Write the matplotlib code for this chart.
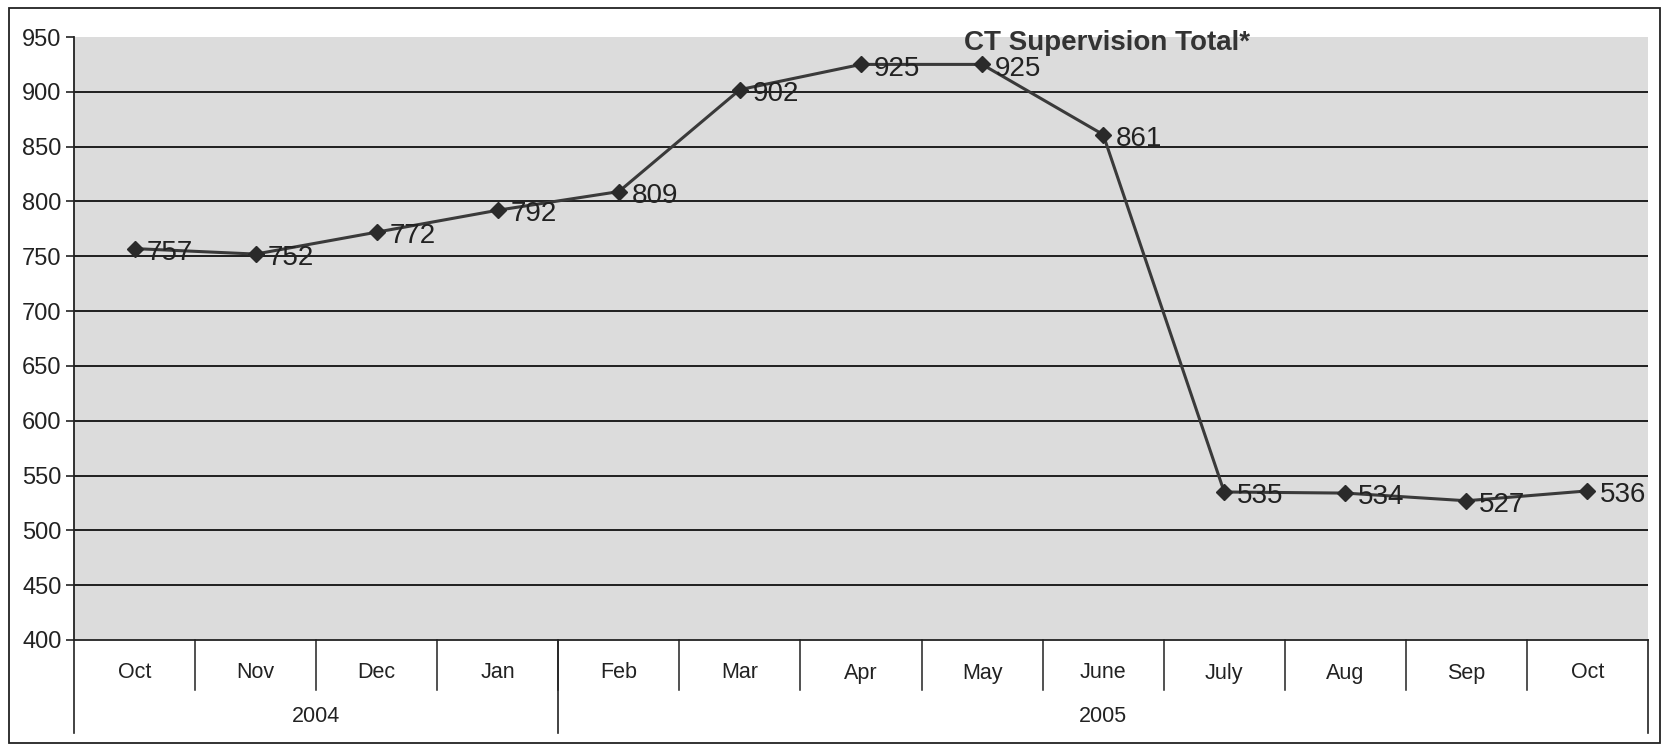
import matplotlib
matplotlib.use("Agg")
import matplotlib.pyplot as plt
from matplotlib.patches import Rectangle
import matplotlib.transforms as mtransforms

months = ["Oct", "Nov", "Dec", "Jan", "Feb", "Mar", "Apr", "May", "June", "July", "Aug", "Sep", "Oct"]
years = ["2004", "2005"]
year_counts = [4, 9]
values = [757, 752, 772, 792, 809, 902, 925, 925, 861, 535, 534, 527, 536]
yticks = list(range(400, 951, 50))
title = "CT Supervision Total*"

plt.rcParams['font.family'] = ['Liberation Sans', 'DejaVu Sans']

W, H = 1663, 753
fig = plt.figure(figsize=(W / 100, H / 100), dpi=100)
fig.patch.set_facecolor("white")

# outer frame
fig.patches.append(Rectangle((9 / W, 1 - 743 / H), (1660 - 9) / W, (743 - 8) / H,
                             transform=fig.transFigure, fill=False, edgecolor="#222222", lw=1.3))

left, right, top, bottom = 74, 1648, 37, 640
ax = fig.add_axes([left / W, 1 - bottom / H, (right - left) / W, (bottom - top) / H])
ax.set_facecolor("#dcdcdc")
n = len(months)
x = list(range(n))
ax.set_xlim(-0.5, n - 0.5)
ax.set_ylim(400, 950)
ax.set_yticks(yticks)
ax.set_yticklabels([str(v) for v in yticks], fontsize=17, color="#222222")
ax.tick_params(axis="y", length=6, width=1.2, color="#222222", pad=3)
ax.set_xticks([])
for s in ["top", "right"]:
    ax.spines[s].set_visible(False)
ax.spines["left"].set_color("#222222")
ax.spines["left"].set_linewidth(1.3)
ax.spines["bottom"].set_color("#222222")
ax.spines["bottom"].set_linewidth(1.3)
for v in yticks[1:-1]:
    ax.axhline(v, color="#111111", lw=1.3, zorder=1)

ax.plot(x, values, color="#3a3a3a", lw=2.2, marker="D", markersize=8,
        markerfacecolor="#2a2a2a", markeredgecolor="#2a2a2a", zorder=3)
for xi, v in zip(x, values):
    ax.annotate(str(v), (xi, v), xytext=(9, -3), textcoords="offset points",
                fontsize=20, color="#222222", va="center", ha="left", zorder=4)

ax.text(0.656, 0.99, title, transform=ax.transAxes, fontsize=20, fontweight="bold",
        color="#333333", ha="center", va="center")

# category axis below
trans = mtransforms.blended_transform_factory(ax.transData, fig.transFigure)
def fy(py):
    return 1 - py / H

month_y = 673
year_y = 717
for i, m in enumerate(months):
    ax.text(i, fy(month_y), m, transform=trans, fontsize=15.5, color="#222222",
            ha="center", va="center")
# month separators
for i in range(1, n):
    ax.plot([i - 0.5, i - 0.5], [fy(bottom), fy(690)], transform=trans,
            color="#222222", lw=1.1, clip_on=False)
# year separators and edges
pos = -0.5
edges = [pos]
for c in year_counts:
    pos += c
    edges.append(pos)
for e in edges:
    ax.plot([e, e], [fy(bottom), fy(733)], transform=trans,
            color="#222222", lw=1.2, clip_on=False)
for yname, a, b in zip(years, edges[:-1], edges[1:]):
    ax.text((a + b) / 2, fy(year_y), yname, transform=trans, fontsize=15.5,
            color="#222222", ha="center", va="center")

fig.savefig("out.png", dpi=100, facecolor="white")
